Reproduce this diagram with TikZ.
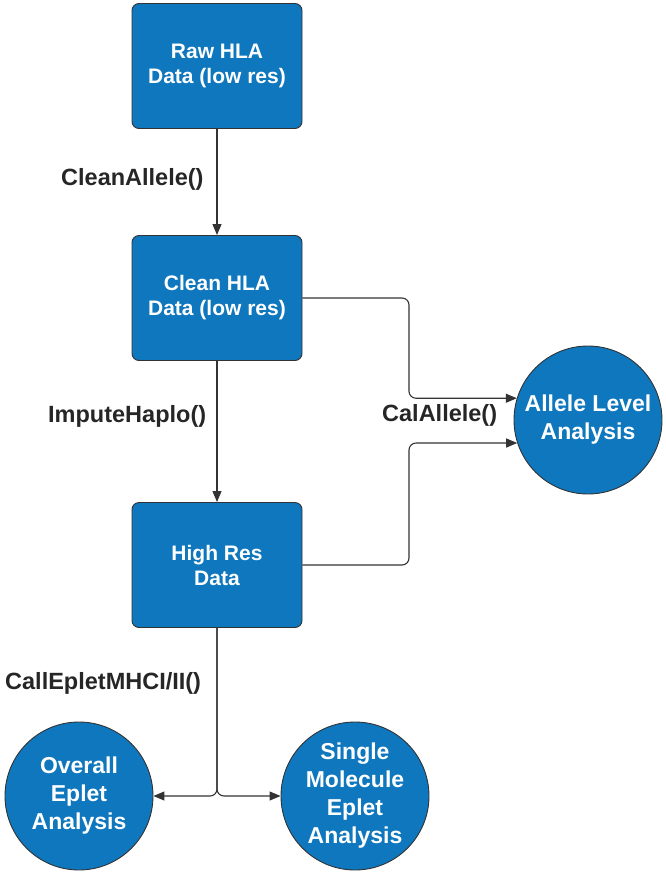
\documentclass[tikz,border=0pt]{standalone}
\usepackage{fontspec}
\setmainfont{Liberation Sans}
\usetikzlibrary{arrows.meta}
\definecolor{boxblue}{RGB}{14,119,189}
\definecolor{edge}{RGB}{51,51,51}
\definecolor{labeltext}{RGB}{38,38,38}
\tikzset{
  procbox/.style={draw=edge, line width=0.9pt, fill=boxblue, rounded corners=7pt,
    minimum width=170pt, minimum height=125pt, text=white, align=center,
    font=\bfseries\fontsize{21}{25}\selectfont, inner sep=0pt},
  result/.style={circle, draw=edge, line width=0.9pt, fill=boxblue, minimum size=148pt,
    text=white, align=center, font=\bfseries\fontsize{23}{28}\selectfont, inner sep=0pt},
  fnlabel/.style={anchor=west, text=labeltext, inner sep=0pt,
    font=\bfseries\fontsize{23.5}{28}\selectfont},
  conn/.style={draw=edge, line width=1.1pt, rounded corners=7pt,
    -{Triangle[length=11pt,width=9pt]}}
}
\begin{document}
\begin{tikzpicture}[x=1pt,y=-1pt]
\useasboundingbox (0,0) rectangle (666,873);
\node[procbox] (raw) at (217,66) {Raw HLA\\Data (low res)};
\node[procbox] (clean) at (217,298) {Clean HLA\\Data (low res)};
\node[procbox] (high) at (217,565) {High Res\\Data};
\node[result] (allele) at (588,420) {Allele Level\\Analysis};
\node[result] (overall) at (79,796) {Overall\\Eplet\\Analysis};
\node[result] (single) at (355,796) {Single\\Molecule\\Eplet\\Analysis};
\node[fnlabel] (l1) at (61,179) {CleanAllele()};
\node[fnlabel] (l2) at (48,416) {ImputeHaplo()};
\node[fnlabel] (l3) at (382,415) {CalAllele()};
\node[fnlabel] (l4) at (5,683) {CallEpletMHCI/II()};
\coordinate (bendA) at (409,298);
\coordinate (bendB) at (409,565);
\draw[conn] (raw.south) -- (clean.north);
\draw[conn] (clean.south) -- (high.north);
\draw[conn] (clean.east) -- (bendA) |- (allele.163.5);
\draw[conn] (high.east) -- (bendB) |- (allele.198);
\draw[conn] (high.south) |- (overall.east);
\draw[conn] (high.south) |- (single.west);
\end{tikzpicture}
\end{document}
